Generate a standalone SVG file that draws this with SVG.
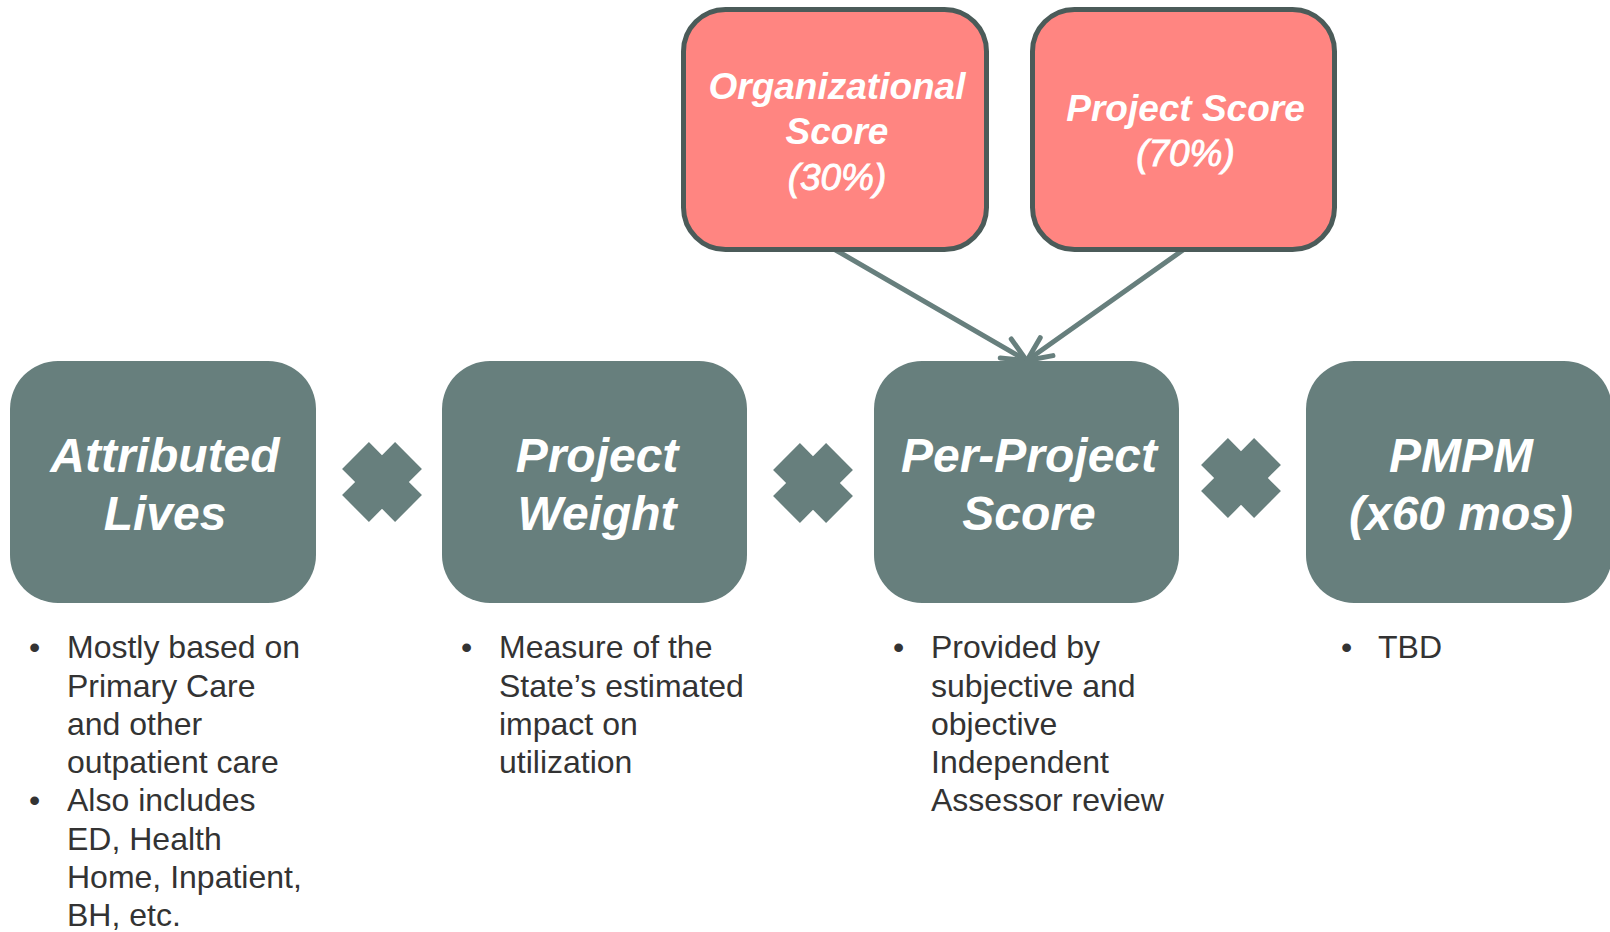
<svg xmlns="http://www.w3.org/2000/svg" width="1610" height="932" viewBox="0 0 1610 932">
<style>
.gbox{fill:#677F7D;}
.pbox{fill:#FF8581;stroke:#4B5B59;stroke-width:5;}
.gt{font-family:"Liberation Sans",Arial,sans-serif;font-weight:bold;font-style:italic;font-size:48px;fill:#fff;text-anchor:middle;}
.pt{font-family:"Liberation Sans",Arial,sans-serif;font-weight:bold;font-style:italic;font-size:37px;fill:#fff;text-anchor:middle;}
.pn{font-weight:normal;stroke:#fff;stroke-width:0.9;}
.bt{font-family:"Liberation Sans",Arial,sans-serif;font-size:32px;fill:#333;}
.conn{fill:none;stroke:#677F7D;stroke-width:5;stroke-linecap:round;}
.times{fill:#677F7D;}
</style>
<defs>
<marker id="arr" markerUnits="userSpaceOnUse" markerWidth="40" markerHeight="40" viewBox="-30 -20 40 40" refX="0" refY="0" orient="auto">
<path d="M-24,-11 L0,0 L-24,11" fill="none" stroke="#677F7D" stroke-width="5" stroke-linecap="round" stroke-linejoin="round"/>
</marker>
<polygon id="x" points="-19,-37.5 19,-37.5 19,-19 37.5,-19 37.5,19 19,19 19,37.5 -19,37.5 -19,19 -37.5,19 -37.5,-19 -19,-19"/>
</defs>
<rect width="1610" height="932" fill="#fff"/>

<g id="connectors">
<path class="conn" d="M835.6,250 L1026.5,360.5" marker-end="url(#arr)"/>
<path class="conn" d="M1183,250 L1027,360.5" marker-end="url(#arr)"/>
</g>

<g id="org-score">
<rect class="pbox" x="683.5" y="9.5" width="303" height="240" rx="42"/>
<text class="pt" x="837" y="99">Organizational</text>
<text class="pt" x="837" y="144">Score</text>
<text class="pt pn" x="837" y="190">(30%)</text>
</g>
<g id="project-score">
<rect class="pbox" x="1032.5" y="9.5" width="302" height="240" rx="42"/>
<text class="pt" x="1185.5" y="121">Project Score</text>
<text class="pt pn" x="1185.5" y="166">(70%)</text>
</g>

<g id="attributed-lives">
<rect class="gbox" x="10" y="361" width="306" height="242" rx="48"/>
<text class="gt" x="165" y="472">Attributed</text>
<text class="gt" x="165" y="530">Lives</text>
</g>
<g id="project-weight">
<rect class="gbox" x="442" y="361" width="305" height="242" rx="48"/>
<text class="gt" x="597" y="472">Project</text>
<text class="gt" x="597" y="530">Weight</text>
</g>
<g id="per-project-score">
<rect class="gbox" x="874" y="361" width="305" height="242" rx="48"/>
<text class="gt" x="1029" y="472">Per-Project</text>
<text class="gt" x="1029" y="530">Score</text>
</g>
<g id="pmpm">
<rect class="gbox" x="1306" y="361" width="306" height="242" rx="48"/>
<text class="gt" x="1461" y="472">PMPM</text>
<text class="gt" x="1461" y="530">(x60 mos)</text>
</g>

<g id="times-1"><use href="#x" class="times" transform="translate(382,482) rotate(45)"/></g>
<g id="times-2"><use href="#x" class="times" transform="translate(813,483) rotate(45)"/></g>
<g id="times-3"><use href="#x" class="times" transform="translate(1241,478) rotate(45)"/></g>

<g id="notes-1" class="bt">
<text x="29" y="658">•</text>
<text x="67" y="658">Mostly based on</text>
<text x="67" y="696.5">Primary Care</text>
<text x="67" y="734.5">and other</text>
<text x="67" y="773">outpatient care</text>
<text x="29" y="811">•</text>
<text x="67" y="811">Also includes</text>
<text x="67" y="849.5">ED, Health</text>
<text x="67" y="888">Home, Inpatient,</text>
<text x="67" y="926">BH, etc.</text>
</g>
<g id="notes-2" class="bt">
<text x="461" y="658">•</text>
<text x="499" y="658">Measure of the</text>
<text x="499" y="696.5">State’s estimated</text>
<text x="499" y="734.5">impact on</text>
<text x="499" y="773">utilization</text>
</g>
<g id="notes-3" class="bt">
<text x="893" y="658">•</text>
<text x="931" y="658">Provided by</text>
<text x="931" y="696.5">subjective and</text>
<text x="931" y="734.5">objective</text>
<text x="931" y="773">Independent</text>
<text x="931" y="811">Assessor review</text>
</g>
<g id="notes-4" class="bt">
<text x="1341" y="658">•</text>
<text x="1378" y="658">TBD</text>
</g>
</svg>
